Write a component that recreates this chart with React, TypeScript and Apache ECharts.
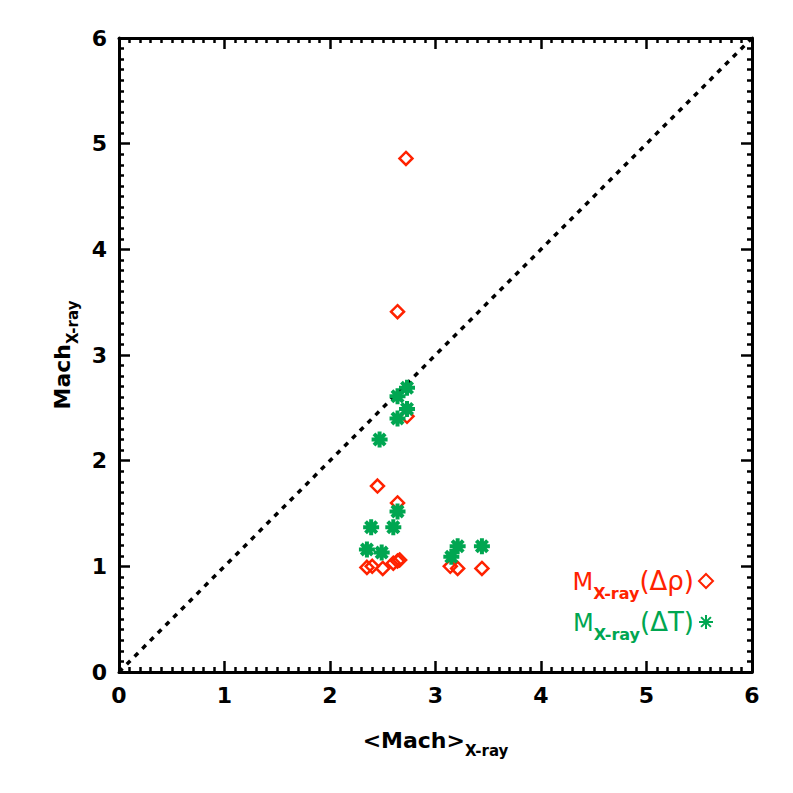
import React, { useEffect, useRef } from "react";
import * as echarts from "echarts";

const xTicks = [0, 1, 2, 3, 4, 5, 6];
const yTicks = [0, 1, 2, 3, 4, 5, 6];

const rhoX = [2.72, 2.64, 2.73, 2.45, 2.64, 2.35, 2.4, 2.5, 2.6, 2.64, 2.66, 3.14, 3.21, 3.44];
const rhoY = [4.86, 3.41, 2.42, 1.76, 1.6, 0.99, 1.0, 0.98, 1.03, 1.05, 1.06, 1.0, 0.98, 0.98];

const tX = [2.73, 2.64, 2.73, 2.64, 2.47, 2.64, 2.39, 2.6, 2.35, 2.49, 3.21, 3.15, 3.44];
const tY = [2.69, 2.61, 2.49, 2.4, 2.2, 1.52, 1.37, 1.37, 1.16, 1.13, 1.19, 1.09, 1.19];

const diagX = [0, 6];
const diagY = [0, 6];

const RED = "#ff2200";
const GREEN = "#00a651";
const FONT = "DejaVu Sans";

const ASTER = "path://M0,-10L0,10M-10,0L10,0M-7,-7L7,7M-7,7L7,-7";

export default function App() {
  const ref = useRef<HTMLDivElement>(null);
  useEffect(() => {
    if (!ref.current) return;
    const chart = echarts.init(ref.current, undefined, { renderer: "svg" });
    const axisCommon = (show: boolean) => ({
      type: "value" as const,
      min: xTicks[0],
      max: xTicks[xTicks.length - 1],
      interval: 1,
      axisLine: { show: true, onZero: false, lineStyle: { color: "#000", width: 3 } },
      axisTick: { show: true, inside: true, length: 11, lineStyle: { color: "#000", width: 2.5 } },
      minorTick: { show: true, splitNumber: 10, length: 5, lineStyle: { color: "#000", width: 2.5 } },
      splitLine: { show: false },
      axisLabel: {
        show,
        color: "#000",
        fontSize: 22,
        fontFamily: FONT,
        fontWeight: "bold" as const,
        margin: 12,
      },
    });
    const subStyle = (color: string, size: number) => ({
      color,
      fontSize: size,
      fontFamily: FONT,
      fontWeight: "bold" as const,
      verticalAlign: "bottom" as const,
      padding: [0, 0, -7, 0],
    });
    const bigStyle = (color: string, size: number, bold = false) => ({
      color,
      fontSize: size,
      fontFamily: FONT,
      fontWeight: (bold ? "bold" : "normal") as any,
      verticalAlign: "bottom" as const,
    });
    chart.setOption({
      animation: false,
      grid: { left: 119, right: 41, top: 38, bottom: 121 },
      xAxis: [
        {
          ...axisCommon(true),
          position: "bottom",
          name: "{a|<Mach>}{b|X-ray}",
          nameLocation: "middle",
          nameGap: 57,
          nameTextStyle: {
            rich: { a: bigStyle("#000", 22, true), b: subStyle("#000", 15) },
          },
        },
        { ...axisCommon(false), position: "top" },
      ],
      yAxis: [
        {
          ...axisCommon(true),
          min: yTicks[0],
          max: yTicks[yTicks.length - 1],
          position: "left",
          name: "{a|Mach}{b|X-ray}",
          nameLocation: "middle",
          nameGap: 46,
          nameTextStyle: {
            rich: { a: bigStyle("#000", 22, true), b: subStyle("#000", 15) },
          },
        },
        { ...axisCommon(false), position: "right" },
      ],
      legend: {
        orient: "vertical",
        right: 74,
        bottom: 146,
        align: "right",
        itemGap: 8,
        itemWidth: 14,
        itemHeight: 14,
        data: ["rho", "T"],
        formatter: (name: string) =>
          name === "rho" ? "{mr|M}{sr|X-ray}{pr|(Δρ)}" : "{mg|M}{sg|X-ray}{pg|(ΔT)}",
        textStyle: {
          rich: {
            mr: bigStyle(RED, 24),
            sr: subStyle(RED, 16),
            pr: bigStyle(RED, 26),
            mg: bigStyle(GREEN, 24),
            sg: subStyle(GREEN, 16),
            pg: bigStyle(GREEN, 26),
          },
        },
      },
      series: [
        {
          type: "line",
          data: diagX.map((x, i) => [x, diagY[i]]),
          showSymbol: false,
          symbol: "none",
          lineStyle: { color: "#000", width: 3.5, type: [5, 6] },
          silent: true,
          z: 1,
        },
        {
          name: "rho",
          type: "scatter",
          data: rhoX.map((x, i) => [x, rhoY[i]]),
          symbol: "diamond",
          symbolSize: 13,
          itemStyle: { color: "rgba(0,0,0,0)", borderColor: RED, borderWidth: 2.5, opacity: 1 },
          z: 3,
        },
        {
          name: "T",
          type: "scatter",
          data: tX.map((x, i) => [x, tY[i]]),
          symbol: ASTER,
          symbolSize: 16,
          itemStyle: { color: "rgba(0,0,0,0)", borderColor: GREEN, borderWidth: 4, opacity: 1 },
          z: 4,
        },
      ],
    });
    return () => chart.dispose();
  }, []);
  return (
    <div
      ref={ref}
      style={{ position: "fixed", left: 0, top: 0, width: 793, height: 793, background: "#fff" }}
    />
  );
}
